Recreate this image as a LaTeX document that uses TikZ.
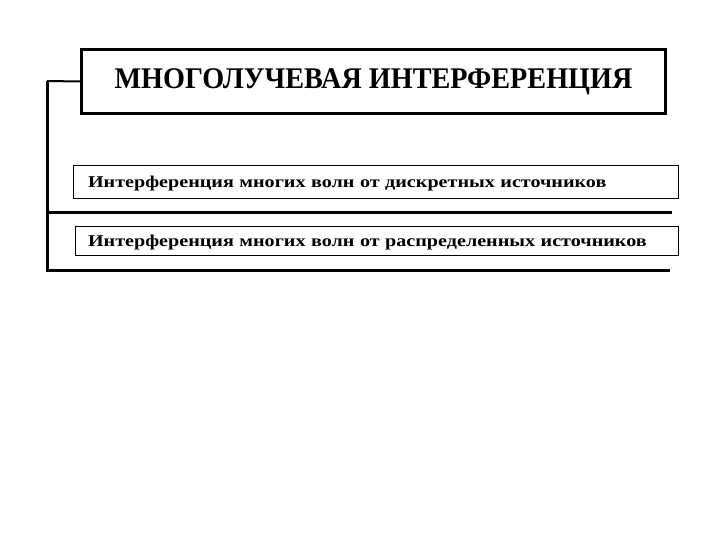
\documentclass[tikz,border=0pt]{standalone}
\usepackage{fontspec}
\setmainfont{Liberation Serif}
\newfontfamily\titlefont{Liberation Serif}[FakeStretch=0.94]
\newfontfamily\itemfont{Liberation Serif}[FakeStretch=1.22]
\usetikzlibrary{positioning}

\tikzset{
  titlebox/.style={draw, line width=3pt, minimum width=584pt, minimum height=64pt, inner sep=0pt,
    font=\titlefont\bfseries\fontsize{30}{34}\selectfont},
  itembox/.style={draw, line width=0.8pt, minimum height=31pt, inner ysep=0pt, align=left,
    text height=15pt, text depth=3pt,
    font=\itemfont\bfseries\fontsize{16.5}{19}\selectfont},
  rule/.style={line width=3pt},
}

\begin{document}
\begin{tikzpicture}[x=1pt, y=-1pt]
    \useasboundingbox (0,0) rectangle (720,540);

    \node[titlebox] (title) at (373.5,81.5) {МНОГОЛУЧЕВАЯ ИНТЕРФЕРЕНЦИЯ};

    \node[itembox, text width=575pt, inner xsep=15pt, minimum height=33pt] (discr) at (375.5,181.5)
        {Интерференция многих волн от дискретных источников};
    \node[itembox, text width=577pt, inner xsep=13pt, minimum height=29pt] (distr) at (376.5,240.5)
        {Интерференция многих волн от распределенных источников};

    % bracket from the title down to the rules
    \coordinate (corner) at (47,81);
    \coordinate (rulea) at (47,213);
    \coordinate (ruleb) at (47,270);
    \coordinate (enda) at (672,213);
    \coordinate (endb) at (670,270);

    \draw[line width=2pt] (title.west) -- (corner);
    \draw[rule] (corner) -- (ruleb) -- (endb);
    \draw[rule] (rulea) -- (enda);

\end{tikzpicture}
\end{document}
